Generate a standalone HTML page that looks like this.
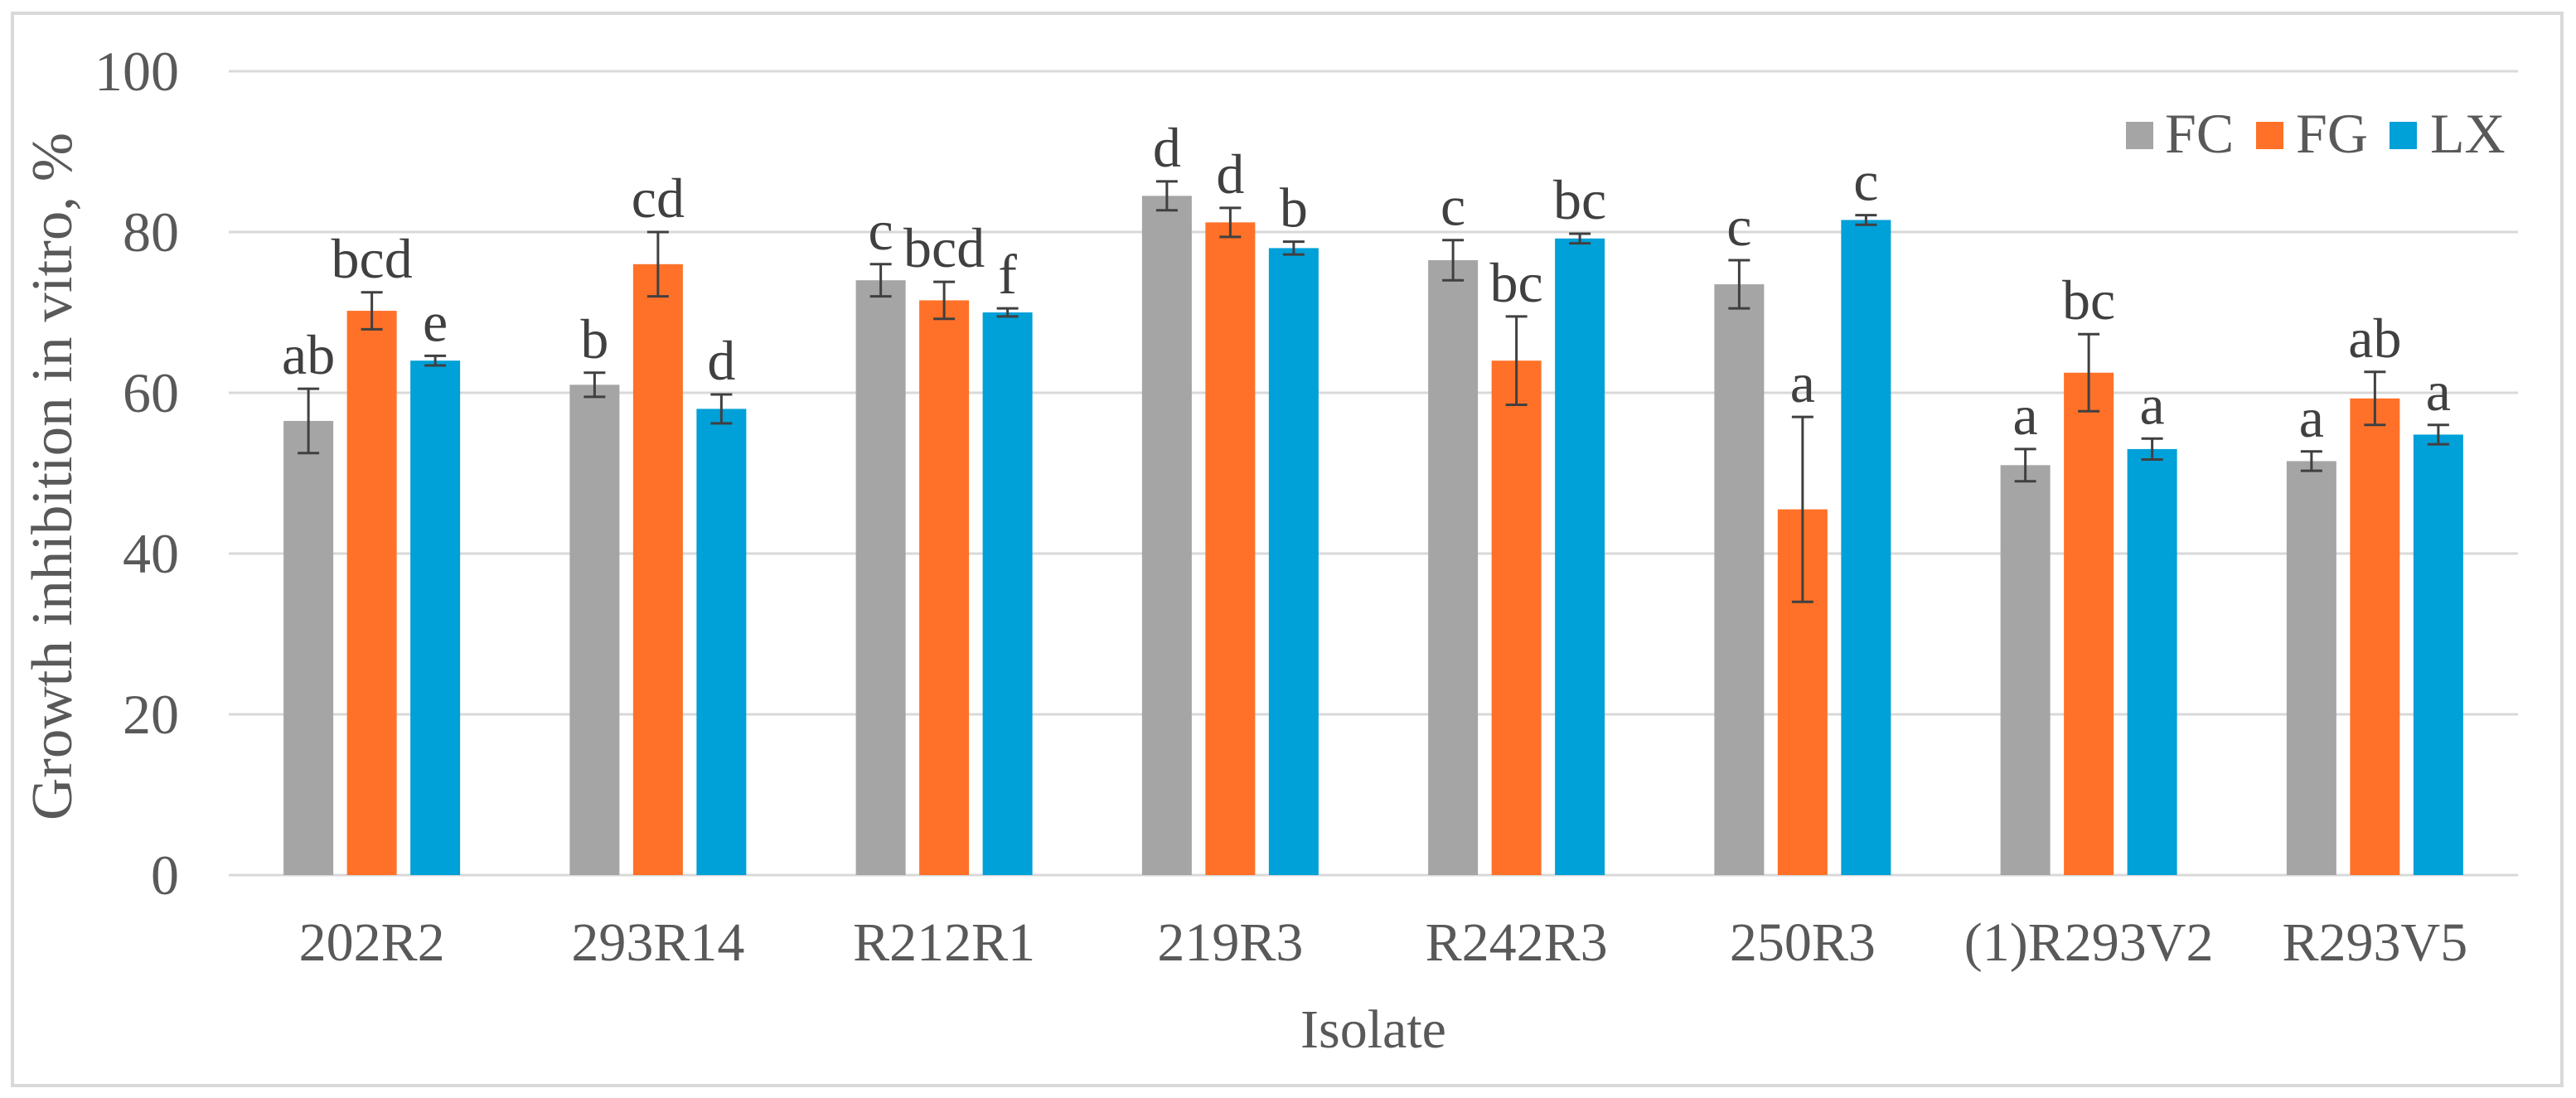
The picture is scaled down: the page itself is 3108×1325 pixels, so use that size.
<!DOCTYPE html>
<html><head><meta charset="utf-8"><style>
html,body{margin:0;padding:0;background:#fff}
svg{display:block;font-family:"Liberation Serif",serif}
</style></head><body>
<svg id="chart" width="3108" height="1325" viewBox="0 0 3108 1325">
<rect x="15" y="16" width="3076" height="1294" fill="#fff" stroke="#d9d9d9" stroke-width="4"/>
<g id="grid"></g><g id="bars"></g><g id="labels"></g>
<text x="86" y="575" transform="rotate(-90 86 575)" text-anchor="middle" font-size="70" textLength="830" lengthAdjust="spacingAndGlyphs" fill="#595959">Growth inhibition in vitro, %</text>
<text x="1657" y="1264" text-anchor="middle" font-size="66" fill="#595959">Isolate</text>
<g>
<rect x="2565" y="147" width="33" height="33" fill="#A5A5A5"/>
<text x="2612" y="184" font-size="68" fill="#595959">FC</text>
<rect x="2722" y="147" width="33" height="33" fill="#FF7128"/>
<text x="2770" y="184" font-size="68" fill="#595959">FG</text>
<rect x="2883" y="147" width="33" height="33" fill="#00A0D8"/>
<text x="2932" y="184" font-size="68" fill="#595959">LX</text>
</g>
</svg>
<script>
const categories=["202R2","293R14","R212R1","219R3","R242R3","250R3","(1)R293V2","R293V5"];
const fcValues=[56.5,61,74,84.5,76.5,73.5,51,51.5];
const fgValues=[70.2,76,71.5,81.2,64,45.5,62.5,59.3];
const lxValues=[64,58,70,78,79.2,81.5,53,54.8];
const fcErr=[4,1.5,2,1.8,2.5,3,2,1.2];
const fgErr=[2.3,4,2.3,1.8,5.5,11.5,4.8,3.3];
const lxErr=[0.6,1.8,0.5,0.8,0.6,0.6,1.3,1.2];
const fcLetters=["ab","b","c","d","c","c","a","a"];
const fgLetters=["bcd","cd","bcd","d","bc","a","bc","ab"];
const lxLetters=["e","d","f","b","bc","c","a","a"];
const yTicks=[0,20,40,60,80,100];
const NS="http://www.w3.org/2000/svg";
const X0=276,X1=3038,Y0=1056,Y1=86;
const y=v=>Y0-(v/100)*(Y0-Y1);
const band=(X1-X0)/categories.length;
const cx=i=>X0+band*(i+0.5);
function mk(t,a,p){const e=document.createElementNS(NS,t);for(const k in a)e.setAttribute(k,a[k]);p.appendChild(e);return e;}
const grid=document.getElementById('grid'),bars=document.getElementById('bars'),labels=document.getElementById('labels');
yTicks.forEach(t=>{
 const l=mk('line',{x1:X0,x2:X1,y1:y(t),y2:y(t),stroke:'#d9d9d9','stroke-width':3},grid);
 
 
 const tx=mk('text',{x:216,y:y(t)+23,'text-anchor':'end','font-size':68,fill:'#595959'},labels);
 tx.textContent=t;
 
 
});
const series=[["fc",fcValues,fcErr,fcLetters,"#A5A5A5"],["fg",fgValues,fgErr,fgLetters,"#FF7128"],["lx",lxValues,lxErr,lxLetters,"#00A0D8"]];
const bw=60,step=76.5;
categories.forEach((c,i)=>{
 const tl=mk('text',{x:cx(i),y:1159,'text-anchor':'middle','font-size':66,fill:'#595959'},labels);
 tl.textContent=c;
 
 
 series.forEach((s,j)=>{
  const v=s[1][i],e=s[2][i];
  const xc=cx(i)+(j-1)*step;
  const r=mk('rect',{x:xc-bw/2,y:y(v),width:bw,height:Y0-y(v),fill:s[4]},bars);
  
  
  const g=mk('path',{d:`M${xc},${y(v+e)}V${y(v-e)}M${xc-13},${y(v+e)}H${xc+13}M${xc-13},${y(v-e)}H${xc+13}`,stroke:'#404040','stroke-width':3,fill:'none'},bars);
  
  
  const lt=mk('text',{x:xc,y:y(v+e)-18,'text-anchor':'middle','font-size':68,fill:'#404040'},labels);
  lt.textContent=s[3][i];
  
  
 });
});
</script>
</body></html>
